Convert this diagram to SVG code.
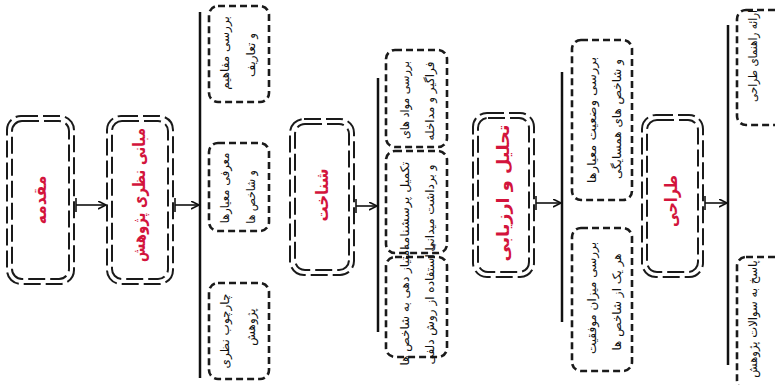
<svg xmlns="http://www.w3.org/2000/svg" width="775" height="385" viewBox="0 0 775 385">
<defs>
<marker id="arr" markerWidth="10" markerHeight="10" refX="8" refY="4" orient="auto" markerUnits="userSpaceOnUse">
<path d="M0,0 L8,4 L0,8" fill="none" stroke="#111" stroke-width="1.6"/>
</marker>
<style>
.mo{fill:none;stroke:#1a1a1a;stroke-width:2;stroke-dasharray:17 5}
.mi{fill:none;stroke:#1a1a1a;stroke-width:2;stroke-dasharray:17 5}
.sb{fill:none;stroke:#1a1a1a;stroke-width:2.6;stroke-dasharray:7 4}
.bar{stroke:#111;stroke-width:2.5}
.ln{stroke:#111;stroke-width:1.6;fill:none}
.mt{font-family:"DejaVu Sans",sans-serif;font-size:17px;font-weight:bold;fill:#d3143c;text-anchor:middle;dominant-baseline:central}
.st{font-family:"DejaVu Sans",sans-serif;font-size:12px;fill:#111;text-anchor:middle;dominant-baseline:central}
</style>
</defs>
<rect width="775" height="385" fill="#fff"/>

<g id="connectors">
<line class="bar" x1="200" y1="12" x2="200" y2="378"/>
<line class="bar" x1="378" y1="78" x2="378" y2="332"/>
<line class="bar" x1="562" y1="72" x2="562" y2="322"/>
<line class="bar" x1="728" y1="25" x2="728" y2="365"/>
<line class="ln" x1="76" y1="198" x2="76" y2="212"/>
<line class="ln" x1="76" y1="205" x2="106" y2="205" marker-end="url(#arr)"/>
<line class="ln" x1="175" y1="198" x2="175" y2="212"/>
<line class="ln" x1="175" y1="205" x2="199" y2="205" marker-end="url(#arr)"/>
<line class="ln" x1="356" y1="199" x2="356" y2="213"/>
<line class="ln" x1="356" y1="206" x2="377" y2="206" marker-end="url(#arr)"/>
<line class="ln" x1="536" y1="196" x2="536" y2="210"/>
<line class="ln" x1="536" y1="203" x2="561" y2="203" marker-end="url(#arr)"/>
<line class="ln" x1="705" y1="196" x2="705" y2="210"/>
<line class="ln" x1="705" y1="203" x2="727" y2="203" marker-end="url(#arr)"/>
</g>

<g id="n1">
<rect class="mo" x="7" y="116" width="67" height="168" rx="14"/>
<rect class="mi" x="12" y="121" width="57" height="158" rx="10"/>
<text class="mt" transform="translate(40,200) rotate(-90) scale(0.91,1)">مقدمه</text>
</g>
<g id="n2">
<rect class="mo" x="107" y="116" width="66" height="168" rx="14"/>
<rect class="mi" x="112" y="121" width="56" height="158" rx="10"/>
<text class="mt" transform="translate(139,195) rotate(-90) scale(0.78,1)">مبانی نظری پژوهش</text>
</g>
<g id="n3">
<rect class="mo" x="290" y="119" width="64" height="156" rx="14"/>
<rect class="mi" x="295" y="124" width="54" height="146" rx="10"/>
<text class="mt" transform="translate(322,195) rotate(-90) scale(0.88,1)">شناخت</text>
</g>
<g id="n4">
<rect class="mo" x="473" y="113" width="61" height="164" rx="14"/>
<rect class="mi" x="478" y="118" width="51" height="154" rx="10"/>
<text class="mt" transform="translate(503,193) rotate(-90) scale(1.04,1)">تحلیل و ارزیابی</text>
</g>
<g id="n5">
<rect class="mo" x="642" y="115" width="61" height="162" rx="14"/>
<rect class="mi" x="647" y="120" width="51" height="152" rx="10"/>
<text class="mt" transform="translate(671,201) rotate(-90) scale(0.84,1)">طراحی</text>
</g>

<g id="s2a">
<rect class="sb" x="209" y="6" width="60" height="96" rx="9"/>
<text class="st" transform="translate(225,53) rotate(-90)">بررسی مفاهیم</text>
<text class="st" transform="translate(251,55) rotate(-90)">و تعاریف</text>
</g>
<g id="s2b">
<rect class="sb" x="209" y="143" width="60" height="88" rx="9"/>
<text class="st" transform="translate(225,188) rotate(-90) scale(0.96,1)">معرفی معیارها</text>
<text class="st" transform="translate(251,197) rotate(-90) scale(0.9,1)">و شاخص ها</text>
</g>
<g id="s2c">
<rect class="sb" x="209" y="283" width="60" height="96" rx="9"/>
<text class="st" transform="translate(225,331) rotate(-90)">چارچوب نظری</text>
<text class="st" transform="translate(251,327) rotate(-90)">پژوهش</text>
</g>

<g id="s3a">
<rect class="sb" x="386" y="50" width="61" height="97" rx="9"/>
<text class="st" transform="translate(405,100) rotate(-90) scale(0.93,1)">بررسی مواد های</text>
<text class="st" transform="translate(430,101) rotate(-90)">فراگیر و مداخله</text>
</g>
<g id="s3b">
<rect class="sb" x="386" y="151" width="61" height="102" rx="9"/>
<text class="st" transform="translate(405,206) rotate(-90) scale(1.05,1)">تکمیل پرسشنامه</text>
<text class="st" transform="translate(430,208) rotate(-90)">و برداشت میدانی</text>
</g>
<g id="s3c">
<rect class="sb" x="386" y="257" width="61" height="100" rx="9"/>
<text class="st" transform="translate(405,306) rotate(-90)">امتیاز دهی به شاخص ها</text>
<text class="st" transform="translate(430,304) rotate(-90)">با استفاده از روش دلفی</text>
</g>

<g id="s4a">
<rect class="sb" x="572" y="40" width="60" height="160" rx="9"/>
<text class="st" transform="translate(592,120) rotate(-90) scale(1.09,1)">بررسی وضعیت معیارها</text>
<text class="st" transform="translate(617,119) rotate(-90)">و شاخص های همسایگی</text>
</g>
<g id="s4b">
<rect class="sb" x="572" y="228" width="60" height="143" rx="9"/>
<text class="st" transform="translate(592,298) rotate(-90)">بررسی میزان موفقیت</text>
<text class="st" transform="translate(617,302) rotate(-90)">هر یک از شاخص ها</text>
</g>

<g id="s5a">
<rect class="sb" x="737" y="10" width="55" height="115" rx="9"/>
<text class="st" transform="translate(753,56) rotate(-90) scale(0.87,1)">ارائه راهنمای طراحی</text>
</g>
<g id="s5b">
<rect class="sb" x="737" y="257" width="55" height="133" rx="9"/>
<text class="st" transform="translate(753,319) rotate(-90) scale(0.97,1)">پاسخ به سوالات پژوهش</text>
</g>
</svg>
